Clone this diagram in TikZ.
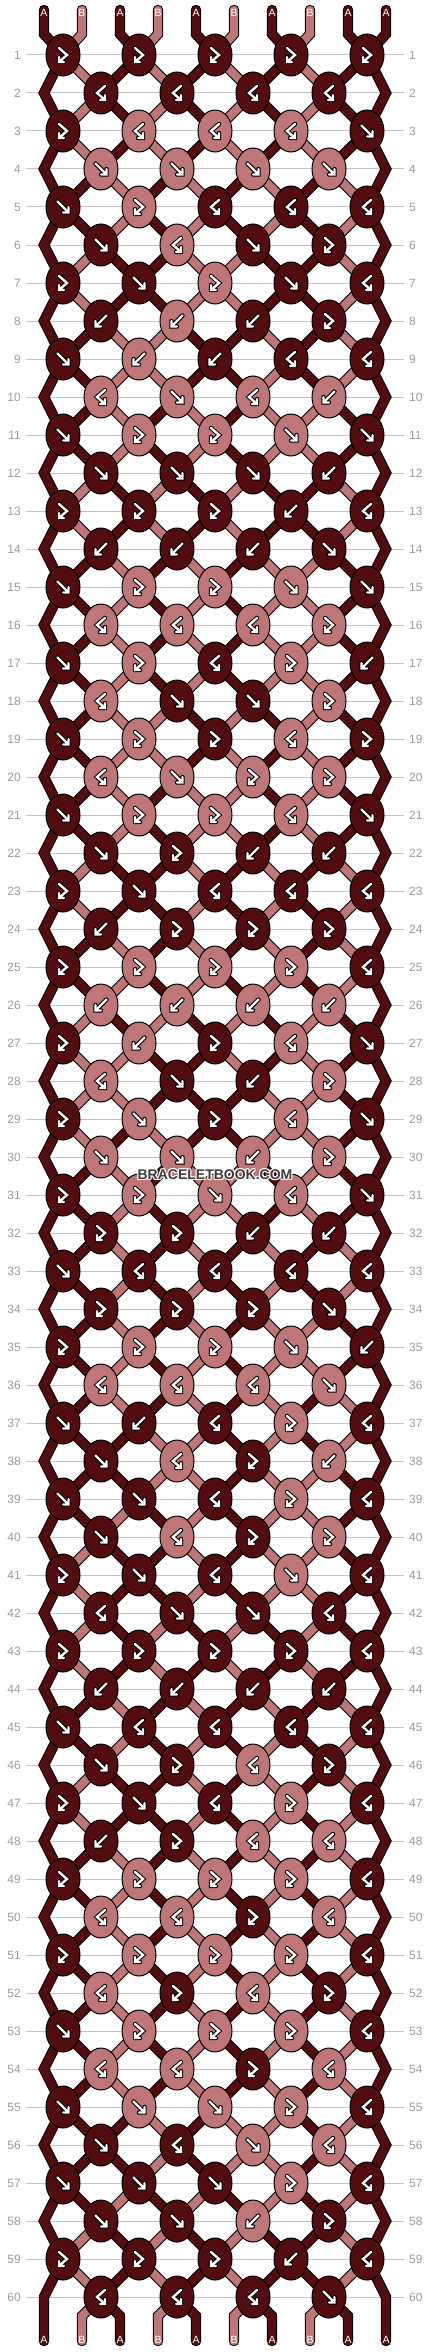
\documentclass[tikz,border=0pt]{standalone}
\usepackage{fontspec}
\setmainfont{Liberation Sans}
\definecolor{dk}{RGB}{84,13,14}
\definecolor{pk}{RGB}{190,118,118}
\definecolor{gridgray}{RGB}{195,195,195}
\definecolor{lblgray}{RGB}{155,155,155}
\definecolor{wmgray}{RGB}{60,60,60}
\tikzset{
  bbout/.style={draw=black, line width=10.4pt, line join=miter, line cap=round},
  bbin/.style={line width=8.4pt, line join=miter, line cap=round},
  knotshape/.style={draw=black, line width=1pt},
  symo/.style={draw=black, line width=4.4pt, line join=miter, line cap=round},
  symi/.style={draw=white, line width=2.4pt, line join=miter, line cap=round},
  gridline/.style={draw=gridgray, line width=1pt},
  rowlbl/.style={text=lblgray, font=\fontsize{12}{12}\selectfont, inner sep=0pt},
  strlbl/.style={text=white, font=\fontsize{10.5}{10.5}\selectfont, inner sep=0pt},
  wm/.style={font=\bfseries\fontsize{14}{14}\selectfont, inner sep=0pt},
}
\newcommand\bbconn[5]{%
  \draw[bbout] (#2,#3) -- (#4,#5);
  \draw[bbin, draw=#1] (#2,#3) -- (#4,#5);}
\newcommand\bbpoly[7]{%
  \draw[bbout] (#2,#3) -- (#4,#5) -- (#6,#7);
  \draw[bbin, draw=#1] (#2,#3) -- (#4,#5) -- (#6,#7);}
\newcommand\bbsympath[3]{\begin{scope}[shift={(#1,#2)}]\draw[symo] #3; \draw[symi] #3;\end{scope}}
\newcommand\bbsymf[2]{\bbsympath{#1}{#2}{(-5.5,-5.5) -- (5.5,5.5) (0,5.5) -- (5.5,5.5) -- (5.5,0)}}
\newcommand\bbsymb[2]{\bbsympath{#1}{#2}{(5.5,-5.5) -- (-5.5,5.5) (0,5.5) -- (-5.5,5.5) -- (-5.5,0)}}
\newcommand\bbsymr[2]{\bbsympath{#1}{#2}{(-4,-7) -- (4,0) -- (-4,7) (1,7) -- (-4,7) -- (-4,2)}}
\newcommand\bbsyml[2]{\bbsympath{#1}{#2}{(4,-7) -- (-4,0) -- (4,7) (-1,7) -- (4,7) -- (4,2)}}
\newcommand\bbknot[4]{%
  \draw[knotshape, fill=#1] (#2,#3) ellipse [x radius=17, y radius=21];
  \csname bbsym#4\endcsname{#2}{#3}}

\ExplSyntaxOn
\intarray_new:Nn \g_bb_s_intarray { 10 }
\tl_new:N \g_bb_knots_tl
\tl_new:N \l_bb_row_tl
\tl_new:N \l_bb_type_tl
\int_new:N \l_bb_p_int
\int_new:N \l_bb_L_int
\int_new:N \l_bb_R_int
\int_new:N \l_bb_c_int
\seq_new:N \g_bb_rows_seq
\seq_gset_from_clist:Nn \g_bb_rows_seq
 {
  rrrrr, llll, rlllf, ffff, frlll, flfr, rfrfl, bbbr, fbbll, lflb,
  frrff, fffb, rrrbl, bbbf, frrff, lllr, frlrb, lffr, frrlr, lfrr,
  frrlf, frbb, rflll, brrr, rrrrl, bbbb, rbrlf, lfbr, rfrlf, ffbr,
  rrflf, rrbb, fllll, rrrf, rrrfb, lllf, fblrl, flrb, fflrl, flrr,
  rflfl, lffl, rrrrl, bbbb, fllll, frlr, rflrl, brll, rrrrl, llrl,
  rrrrl, lrlr, frrrl, llrl, fffrl, flfl, fffrl, ffbr, rrrbl, lllf
 }
\cs_new:Npn \bb_col:n #1 { \int_compare:nNnTF {#1} = {1} {dk} {pk} }
\cs_new:Npn \bb_y:n #1 { \int_eval:n { 55 + 38 * ( #1 - 1 ) } }
\cs_new:Npn \bb_kx:n #1 { \int_eval:n { 63 + 38 * ( #1 ) } }
\cs_new:Npn \bb_sx:n #1 { \int_eval:n { 44 + 38 * ( #1 ) } }
\cs_new:Npn \bb_kp:nn #1#2
 {
  \int_if_odd:nTF {#1}
   { \int_eval:n { #2 - \int_mod:nn {#2} {2} } }
   { \int_eval:n { #2 - 1 + \int_mod:nn {#2} {2} } }
 }
\cs_new:Npn \bb_s:n #1 { \intarray_item:Nn \g_bb_s_intarray { #1 + 1 } }
\cs_new_protected:Npn \bb_swap:
 {
  \intarray_gset:Nnn \g_bb_s_intarray { \l_bb_p_int + 1 } { \l_bb_R_int }
  \intarray_gset:Nnn \g_bb_s_intarray { \l_bb_p_int + 2 } { \l_bb_L_int }
 }
\cs_new_protected:Npn \bb_run:
 {
  \int_step_variable:nnNn {0} {9} \l_bb_j_tl
   {
    \intarray_gset:Nnn \g_bb_s_intarray { \l_bb_j_tl + 1 }
     { \int_case:nnF { \l_bb_j_tl } { {1}{2} {3}{2} {5}{2} {7}{2} } {1} }
   }
  \int_step_variable:nnNn {0} {9} \l_bb_j_tl
   {
    \use:e
     {
      \exp_not:N \bbpoly { \bb_col:n { \bb_s:n { \l_bb_j_tl } } }
       { \bb_sx:n { \l_bb_j_tl } } {10}
       { \bb_sx:n { \l_bb_j_tl } } {34}
       { \bb_kx:n { \bb_kp:nn {1} { \l_bb_j_tl } } } {55}
     }
   }
  \tl_gclear:N \g_bb_knots_tl
  \int_step_variable:nnNn {1} {60} \l_bb_r_tl
   {
    \tl_set:Nx \l_bb_row_tl { \seq_item:Nn \g_bb_rows_seq { \l_bb_r_tl } }
    \int_step_variable:nnNn {1} { \tl_count:N \l_bb_row_tl } \l_bb_k_tl
     {
      \tl_set:Nx \l_bb_type_tl { \tl_item:Nn \l_bb_row_tl { \l_bb_k_tl } }
      \int_set:Nn \l_bb_p_int { 2 * ( \l_bb_k_tl - 1 ) + \int_if_odd:nTF { \l_bb_r_tl } {0} {1} }
      \int_set:Nn \l_bb_L_int { \bb_s:n { \l_bb_p_int } }
      \int_set:Nn \l_bb_R_int { \bb_s:n { \l_bb_p_int + 1 } }
      \exp_args:NV \str_case:nn \l_bb_type_tl
       {
        {f} { \int_set_eq:NN \l_bb_c_int \l_bb_L_int \bb_swap: }
        {b} { \int_set_eq:NN \l_bb_c_int \l_bb_R_int \bb_swap: }
        {r} { \int_set_eq:NN \l_bb_c_int \l_bb_L_int }
        {l} { \int_set_eq:NN \l_bb_c_int \l_bb_R_int }
       }
      \tl_gput_right:Nx \g_bb_knots_tl
       {
        \exp_not:N \bbknot { \bb_col:n { \l_bb_c_int } }
         { \bb_kx:n { \l_bb_p_int } } { \bb_y:n { \l_bb_r_tl } } { \l_bb_type_tl }
       }
     }
    \int_step_variable:nnNn {0} {9} \l_bb_j_tl
     {
      \bool_if:nTF
       { \int_compare_p:nNn { \l_bb_j_tl } = {0} || \int_compare_p:nNn { \l_bb_j_tl } = {9} }
       {
        \int_if_odd:nT { \l_bb_r_tl }
         {
          \int_compare:nNnTF { \l_bb_r_tl } < {59}
           {
            \use:e
             {
              \exp_not:N \bbpoly { \bb_col:n { \bb_s:n { \l_bb_j_tl } } }
               { \bb_kx:n { \bb_kp:nn {1} { \l_bb_j_tl } } } { \bb_y:n { \l_bb_r_tl } }
               { \bb_sx:n { \l_bb_j_tl } } { \bb_y:n { \l_bb_r_tl + 1 } }
               { \bb_kx:n { \bb_kp:nn {1} { \l_bb_j_tl } } } { \bb_y:n { \l_bb_r_tl + 2 } }
             }
           }
           {
            \use:e
             {
              \exp_not:N \bbpoly { \bb_col:n { \bb_s:n { \l_bb_j_tl } } }
               { \bb_kx:n { \bb_kp:nn {1} { \l_bb_j_tl } } } { \bb_y:n { \l_bb_r_tl } }
               { \bb_sx:n { \l_bb_j_tl } } { \bb_y:n { \l_bb_r_tl + 1 } }
               { \bb_sx:n { \l_bb_j_tl } } {2341}
             }
           }
         }
       }
       {
        \int_compare:nNnTF { \l_bb_r_tl } < {60}
         {
          \use:e
           {
            \exp_not:N \bbconn { \bb_col:n { \bb_s:n { \l_bb_j_tl } } }
             { \bb_kx:n { \bb_kp:nn { \l_bb_r_tl } { \l_bb_j_tl } } } { \bb_y:n { \l_bb_r_tl } }
             { \bb_kx:n { \bb_kp:nn { \l_bb_r_tl + 1 } { \l_bb_j_tl } } } { \bb_y:n { \l_bb_r_tl + 1 } }
           }
         }
         {
          \use:e
           {
            \exp_not:N \bbpoly { \bb_col:n { \bb_s:n { \l_bb_j_tl } } }
             { \bb_kx:n { \bb_kp:nn {60} { \l_bb_j_tl } } } { \bb_y:n {60} }
             { \bb_sx:n { \l_bb_j_tl } } {2316}
             { \bb_sx:n { \l_bb_j_tl } } {2341}
           }
         }
       }
     }
   }
 }
\cs_new_eq:NN \bbrun \bb_run:
\cs_new_protected:Npn \bbknotsout { \tl_use:N \g_bb_knots_tl }
\ExplSyntaxOff

\begin{document}
\begin{tikzpicture}[x=1pt,y=-1pt]
\useasboundingbox (0,0) rectangle (430,2352);
\fill[white] (0,0) rectangle (430,2352);
\foreach \r in {1,...,60}{
  \pgfmathtruncatemacro\yy{55+38*(\r-1)}
  \draw[gridline] (26,\yy) -- (404,\yy);
  \node[rowlbl, anchor=east] (ll\r) at (21,\yy) {\r};
  \node[rowlbl, anchor=west] (rl\r) at (409,\yy) {\r};
}
\bbrun
\bbknotsout
\foreach \lab [count=\i from 0] in {A,B,A,B,A,B,A,B,A,A}{
  \pgfmathtruncatemacro\xx{44+38*\i}
  \node[strlbl] (t\i) at (\xx,13) {\lab};
  \node[strlbl] (b\i) at (\xx,2340) {\lab};
}
\foreach \dx/\dy [count=\k] in {-1/0,1/0,0/-1,0/1,-1/-1,1/1,-1/1,1/-1}{
  \node[wm, text=white, opacity=0.85] (h\k) at (215+\dx,1175+\dy) {BRACELETBOOK.COM};
}
\node[wm, text=wmgray] (wm) at (215,1175) {BRACELETBOOK.COM};
\end{tikzpicture}
\end{document}
